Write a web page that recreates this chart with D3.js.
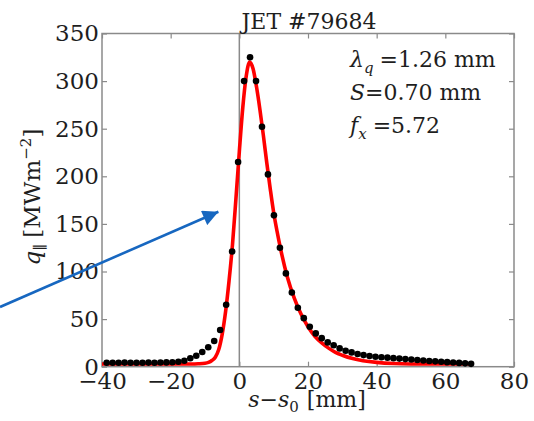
<!DOCTYPE html>
<html>
<head>
<meta charset="utf-8">
<script src="https://cdn.jsdelivr.net/npm/d3@7"></script>
<style>
   body { margin: 0; background: #fff; }
   svg text { font-family: 'DejaVu Serif', 'Liberation Serif', serif; fill: #1e1e1e; }
</style>
</head>
<body>
<div id="chart"></div>
<script>

// MEASURED POINTS (s - s0 IN MM, q IN MW/M2)
var measX = [-38.64, -36.90, -35.16, -33.42, -31.68, -29.94, -28.20, -26.46, -24.72, -22.98,
   -21.24, -19.50, -17.76, -16.02, -14.28, -12.54, -10.80, -9.06, -7.32, -5.58,
   -3.84, -2.10, -0.36, 1.38, 3.12, 4.86, 6.60, 8.34, 10.08, 11.82,
   13.56, 15.30, 17.04, 18.78, 20.52, 22.26, 24.00, 25.74, 27.48, 29.22,
   30.96, 32.70, 34.44, 36.18, 37.92, 39.66, 41.40, 43.14, 44.88, 46.62,
   48.36, 50.10, 51.84, 53.58, 55.32, 57.06, 58.80, 60.54, 62.28, 64.02,
   65.76, 67.50];
var measQ = [4.2, 4.1, 4.2, 4.3, 4.1, 4.2, 4.2, 4.3, 4.2, 4.4,
   4.5, 4.7, 5.2, 6.3, 8.8, 11.5, 15.5, 20.5, 27, 38.5,
   65, 121, 215, 300, 325, 300, 252, 202, 159, 125,
   98, 78, 62, 51, 42, 35, 30, 25.5, 22.5, 19.2,
   16.8, 15, 13.3, 12.2, 11.3, 10.5, 10, 9.5, 9, 8.5,
   8, 7.5, 7, 6.5, 6, 5.6, 5.2, 4.8, 4.4, 4,
   3.5, 3];

// FITTED PROFILE (RED CURVE)
var fitX = [-40, -20, -14, -12, -10, -9, -8, -7, -6, -5, -4, -3, -2, -1, 0, 1, 2, 3, 4, 5,
   6, 7, 8, 9, 10, 11, 12, 14, 16, 18, 20, 22, 24, 26, 28, 30, 33, 36, 40, 45,
   50, 60, 67.5];
var fitQ = [2.8, 2.8, 2.9, 3.1, 3.6, 4.5, 6.5, 10, 18, 34, 58, 90, 128, 176, 226, 272, 305, 320, 313, 294,
   270, 243, 214, 187, 162, 142, 124, 94, 72, 55, 42, 32, 25, 19.5, 15, 12, 8.5, 6.3, 4.5, 3.3,
   2.9, 2.8, 2.8];

// AXIS TICKS
var xTicks = [-40, -20, 0, 20, 40, 60, 80];
var yTicks = [0, 50, 100, 150, 200, 250, 300, 350];

// ANNOTATION ARROW (DATA UNITS: TAIL, TIP)
var arrowX = [-69.7, -6.1];
var arrowQ = [62.7, 162.8];

var settings = {
   width: 534,
   height: 421,
   margin: { left: 102, right: 20, top: 33.5, bottom: 54.3 },
   frame: '#8a8a8a',
   fit: '#ff0000',
   arrow: '#1767c0',
   font: 23
};

chart(settings);

// BUILD THE WHOLE FIGURE
function chart(settings) {

   var m = settings.margin;
   var w = settings.width - m.left - m.right;
   var h = settings.height - m.top - m.bottom;

   var xScale = d3.scaleLinear().domain([-40, 80]).range([0, w]);
   var yScale = d3.scaleLinear().domain([0, 350]).range([h, 0]);

   var svg = d3.select('#chart').append('svg')
      .attr('width', settings.width)
      .attr('height', settings.height)

   var canvas = svg.append('g')
      .attr('transform', 'translate(' + m.left + ',' + m.top + ')')

   // ZERO LINE
   canvas.append('line')
      .attr('x1', xScale(0)).attr('x2', xScale(0))
      .attr('y1', 0).attr('y2', h)
      .attr('stroke', settings.frame)
      .attr('stroke-width', 1.5)

   // AXES (INWARD TICKS ON ALL FOUR SIDES)
   var bottom = canvas.append('g')
      .attr('transform', 'translate(0,' + h + ')')
      .call(d3.axisBottom(xScale).tickValues(xTicks).tickSize(-5).tickPadding(6))
   var top = canvas.append('g')
      .call(d3.axisTop(xScale).tickValues(xTicks).tickSize(-5).tickFormat(''))
   var left = canvas.append('g')
      .call(d3.axisLeft(yScale).tickValues(yTicks).tickSize(-5).tickPadding(3))
   var right = canvas.append('g')
      .attr('transform', 'translate(' + w + ',0)')
      .call(d3.axisRight(yScale).tickValues(yTicks).tickSize(-5).tickFormat(''))

   ;[bottom, top, left, right].forEach(ax => {
      ax.select('.domain').remove();
      ax.selectAll('line').attr('stroke', settings.frame).attr('stroke-width', 1.2);
      ax.selectAll('text')
         .style('font-family', "'DejaVu Serif', serif")
         .style('font-size', settings.font + 'px')
         .attr('fill', '#1e1e1e');
   });

   // FRAME
   canvas.append('rect')
      .attr('width', w).attr('height', h)
      .attr('fill', 'none')
      .attr('stroke', settings.frame)
      .attr('stroke-width', 1.5)

   // FIT CURVE
   var pathify = d3.line()
      .x((d, i) => { return xScale(fitX[i]) })
      .y((d) => { return yScale(d) })
      .curve(d3.curveMonotoneX)

   canvas.append('path')
      .attr('fill', 'none')
      .attr('stroke', settings.fit)
      .attr('stroke-width', 3.6)
      .attr('stroke-linejoin', 'round')
      .attr('d', pathify(fitQ))

   // MEASURED DOTS
   canvas.selectAll('circle')
      .data(measQ)
         .enter().append('circle')
            .attr('cx', (d, i) => { return xScale(measX[i]) })
            .attr('cy', (d) => { return yScale(d) })
            .attr('r', 3.3)
            .attr('fill', '#000')

   // TITLE
   canvas.append('text')
      .attr('x', xScale(20.3)).attr('y', -4.5)
      .attr('text-anchor', 'middle')
      .style('font-size', '22px')
      .text('JET #79684')

   // FIT PARAMETERS
   var note = canvas.append('g').style('font-size', '22px');

   var t1 = note.append('text').attr('x', 248).attr('y', 33);
   t1.append('tspan').style('font-style', 'italic').text('λ');
   t1.append('tspan').style('font-style', 'italic').style('font-size', '15px').attr('dy', 6).text('q');
   t1.append('tspan').attr('dy', -6).attr('dx', 6).text('=1.26 mm');

   var t2 = note.append('text').attr('x', 248).attr('y', 66.5);
   t2.append('tspan').style('font-style', 'italic').text('S');
   t2.append('tspan').text('=0.70 mm');

   var t3 = note.append('text').attr('x', 248).attr('y', 99);
   t3.append('tspan').style('font-style', 'italic').text('f');
   t3.append('tspan').style('font-style', 'italic').style('font-size', '15px').attr('dy', 6).text('x');
   t3.append('tspan').attr('dy', -6).attr('dx', 6).text('=5.72');

   // Y LABEL
   var yl = svg.append('text')
      .attr('transform', 'translate(40,197) rotate(-90)')
      .attr('text-anchor', 'middle')
      .style('font-size', '23px')
   yl.append('tspan').style('font-style', 'italic').text('q');
   yl.append('tspan').style('font-size', '15px').attr('dy', 5).text('∥');
   yl.append('tspan').attr('dy', -5).attr('dx', 6).text('[MWm');
   yl.append('tspan').style('font-size', '15px').attr('dy', -9).text('−2');
   yl.append('tspan').attr('dy', 9).text(']');

   // X LABEL
   var xl = svg.append('text')
      .attr('x', 307).attr('y', 407)
      .attr('text-anchor', 'middle')
      .style('font-size', '22px')
   xl.append('tspan').style('font-style', 'italic').text('s');
   xl.append('tspan').text('−');
   xl.append('tspan').style('font-style', 'italic').text('s');
   xl.append('tspan').style('font-size', '15px').attr('dy', 5).text('0');
   xl.append('tspan').attr('dy', -5).attr('dx', 8).text('[mm]');

   // ANNOTATION ARROW
   svg.append('defs').append('marker')
      .attr('id', 'head')
      .attr('viewBox', '0 0 10 10')
      .attr('refX', 10).attr('refY', 5)
      .attr('markerWidth', 7).attr('markerHeight', 6)
      .attr('markerUnits', 'strokeWidth')
      .attr('orient', 'auto')
      .append('path')
         .attr('d', 'M0,0 L10,5 L0,10 z')
         .attr('fill', settings.arrow)

   canvas.append('line')
      .attr('x1', xScale(arrowX[0])).attr('y1', yScale(arrowQ[0]))
      .attr('x2', xScale(arrowX[1])).attr('y2', yScale(arrowQ[1]))
      .attr('stroke', settings.arrow)
      .attr('stroke-width', 2.6)
      .attr('marker-end', 'url(#head)')
}
</script>
</body>
</html>
